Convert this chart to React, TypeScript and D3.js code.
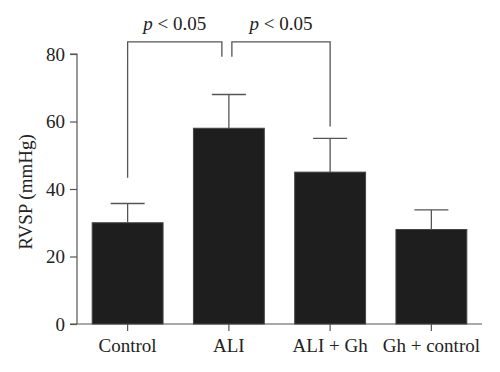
import React, { useEffect, useRef } from 'react'
import { select, scaleBand, scaleLinear, axisLeft, axisBottom } from 'd3'

const categories = ['Control', 'ALI', 'ALI + Gh', 'Gh + control']
const means = [30, 58, 45, 28]
const errors = [5.7, 10, 10, 5.8]
const yTicks = [0, 20, 40, 60, 80]
// significance brackets: group indices, top of bracket, where each leg stops
const brackets = [
    { from: 0, to: 1, top: 83.6, leftEnd: 43.3, rightEnd: 79.2, label: '0.05' },
    { from: 1, to: 2, top: 83.6, leftEnd: 79.2, rightEnd: 58.5, label: '0.05' },
]

const width = 500
const height = 372
const margin = { top: 54, right: 18, bottom: 48, left: 77 }
const font = '"Liberation Serif", "Times New Roman", serif'
const ink = '#222'
const lineColor = '#555'

function App() {
    const svgRef = useRef<SVGSVGElement>(null)

    useEffect(() => {
        const svg = select(svgRef.current)
        svg.selectAll('*').remove()

        const x = scaleBand()
            .domain(categories)
            .range([margin.left, width - margin.right])
            .paddingInner(0.3)
            .paddingOuter(0.15)

        const y = scaleLinear()
            .domain([0, 80])
            .range([height - margin.bottom, margin.top])

        const cx = (i: number) => x(categories[i])! + x.bandwidth() / 2

        // axes
        const yAxis = svg
            .append('g')
            .attr('transform', `translate(${margin.left},0)`)
            .call(axisLeft(y).tickValues(yTicks).tickSize(7).tickPadding(5))
        yAxis.select('.domain').attr('d', `M-7,${y(80)}H0V${y(0)}`)

        const xAxis = svg
            .append('g')
            .attr('transform', `translate(0,${height - margin.bottom})`)
            .call(axisBottom(x).tickSize(7).tickPadding(8))
        xAxis
            .select('.domain')
            .attr('d', `M${margin.left - 7},0H${width - margin.right}`)

        svg.selectAll('.tick text')
            .attr('font-family', font)
            .attr('font-size', 19)
            .attr('fill', ink)
        svg.selectAll('.domain, .tick line').attr('stroke', lineColor).attr('stroke-width', 1.2)

        // bars
        svg.append('g')
            .selectAll('rect')
            .data(means)
            .join('rect')
            .attr('x', (_, i) => x(categories[i])!)
            .attr('width', x.bandwidth())
            .attr('y', d => y(d))
            .attr('height', d => y(0) - y(d))
            .attr('fill', '#1e1e1e')
            .attr('stroke', '#444')
            .attr('stroke-width', 1)

        // error bars
        const capHalf = 17
        const eb = svg
            .append('g')
            .attr('stroke', lineColor)
            .attr('stroke-width', 1.3)
            .selectAll('g')
            .data(means)
            .join('g')
        eb.append('line')
            .attr('x1', (_, i) => cx(i))
            .attr('x2', (_, i) => cx(i))
            .attr('y1', d => y(d))
            .attr('y2', (d, i) => y(d + errors[i]))
        eb.append('line')
            .attr('x1', (_, i) => cx(i) - capHalf)
            .attr('x2', (_, i) => cx(i) + capHalf)
            .attr('y1', (d, i) => y(d + errors[i]))
            .attr('y2', (d, i) => y(d + errors[i]))

        // significance brackets
        const gap = 5
        brackets.forEach((b, k) => {
            const x1 = cx(b.from) + (k === 0 ? 0 : gap - 2)
            const x2 = cx(b.to) - (k === 0 ? gap + 2 : 0)
            svg.append('path')
                .attr('d', `M${x1},${y(b.leftEnd)}V${y(b.top)}H${x2}V${y(b.rightEnd)}`)
                .attr('fill', 'none')
                .attr('stroke', lineColor)
                .attr('stroke-width', 1.3)
            const t = svg
                .append('text')
                .attr('x', (x1 + x2) / 2)
                .attr('y', y(b.top) - 12)
                .attr('text-anchor', 'middle')
                .attr('font-family', font)
                .attr('font-size', 19)
                .attr('fill', ink)
            t.append('tspan').attr('font-style', 'italic').text('p')
            t.append('tspan').text(` < ${b.label}`)
        })

        // y label
        svg.append('text')
            .attr('transform', `translate(32,${(y(0) + y(80)) / 2 + 3}) rotate(-90)`)
            .attr('text-anchor', 'middle')
            .attr('font-family', font)
            .attr('font-size', 19)
            .attr('fill', ink)
            .text('RVSP (mmHg)')
    }, [])

    return (
        <svg
            ref={svgRef}
            width={width}
            height={height}
            style={{ position: 'absolute', left: 0, top: 0, background: '#fff' }}
        ></svg>
    )
}

export default App
